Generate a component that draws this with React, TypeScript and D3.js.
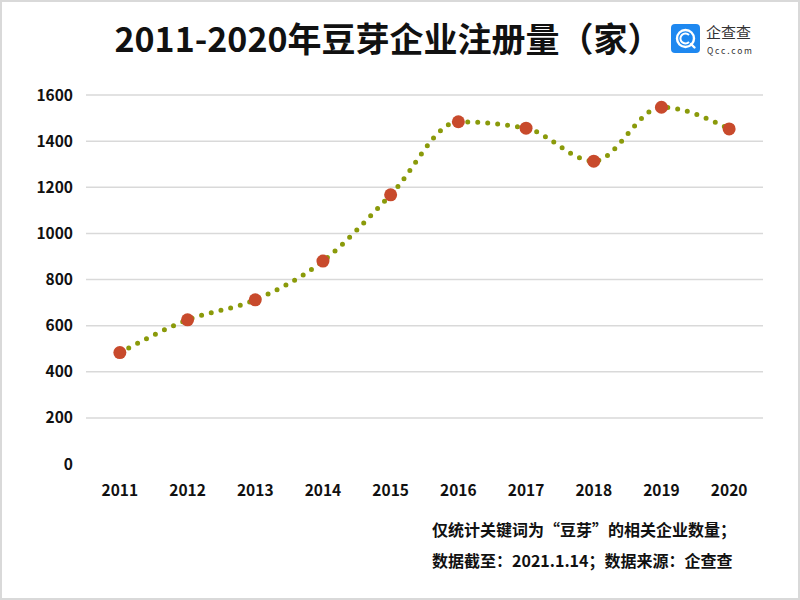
import React from "react";
import * as d3 from "d3";

const years = ["2011", "2012", "2013", "2014", "2015", "2016", "2017", "2018", "2019", "2020"];
const counts = [483, 625, 712, 880, 1167, 1484, 1456, 1313, 1547, 1453];
const yTicks = [0, 200, 400, 600, 800, 1000, 1200, 1400, 1600];
const title = "2011-2020年豆芽企业注册量（家）";
const notes = ["仅统计关键词为“豆芽”的相关企业数量；", "数据截至：2021.1.14；数据来源：企查查"];

const W = 800, H = 600;
const left = 86, right = 763, top = 95, bottom = 464;
const FONT = "'Noto Sans CJK SC', 'Noto Sans', sans-serif";

export default function App() {
  const x = d3.scalePoint<string>().domain(years).range([left, right]).padding(0.5);
  const y = d3.scaleLinear().domain([0, 1600]).range([bottom, top]);
  const line = d3
    .line<number>()
    .x((_, i) => x(years[i])!)
    .y((d) => y(d))
    .curve(d3.curveMonotoneX);
  return (
    <svg width={W} height={H} style={{ position: "absolute", left: 0, top: 0, background: "#fff" }} fontFamily={FONT}>
      <rect x={1} y={1} width={W - 2} height={H - 2} fill="#fff" stroke="#d9d9d9" strokeWidth={2} />
      <text x={388} y={52} textAnchor="middle" fontSize={34} fontWeight={700} fill="#111">
        {title}
      </text>
      {/* logo */}
      <g transform="translate(671,24)">
        <rect x={0} y={0} width={29} height={29} rx={4} fill="#1e88f0" />
        <circle cx={14.5} cy={14.5} r={8.5} fill="none" stroke="#fff" strokeWidth={2.4} />
        <path d="M 18 11 A 5 5 0 1 0 18 18" fill="none" stroke="#fff" strokeWidth={2} />
        <line x1={20} y1={20} x2={23.5} y2={23.5} stroke="#fff" strokeWidth={2.4} strokeLinecap="round" />
        <text x={35} y={14} fontSize={15} fill="#333">企查查</text>
        <text x={36} y={30} fontSize={8.5} fill="#333" letterSpacing={1.8}>Qcc.com</text>
      </g>
      {yTicks.filter((t) => t > 0).map((t) => (
        <line key={t} x1={left} x2={right} y1={y(t)} y2={y(t)} stroke="#d9d9d9" strokeWidth={1.5} />
      ))}
      {yTicks.map((t) => (
        <text key={"l" + t} x={73} y={y(t) + 5.5} textAnchor="end" fontSize={15.5} fontWeight={700} fill="#111">
          {t}
        </text>
      ))}
      {years.map((yr) => (
        <text key={yr} x={x(yr)!} y={496} textAnchor="middle" fontSize={15.5} fontWeight={700} fill="#111">
          {yr}
        </text>
      ))}
      <path d={line(counts)!} fill="none" stroke="#8a9a0a" strokeWidth={5} strokeDasharray="0 10" strokeLinecap="round" />
      {counts.map((c, i) => (
        <circle key={i} cx={x(years[i])!} cy={y(c)} r={6.5} fill="#c84a2c" />
      ))}
      {notes.map((n, i) => (
        <text key={i} x={432} y={536 + i * 31} textAnchor="start" fontSize={16} fontWeight={700} fill="#111">
          {n}
        </text>
      ))}
    </svg>
  );
}
